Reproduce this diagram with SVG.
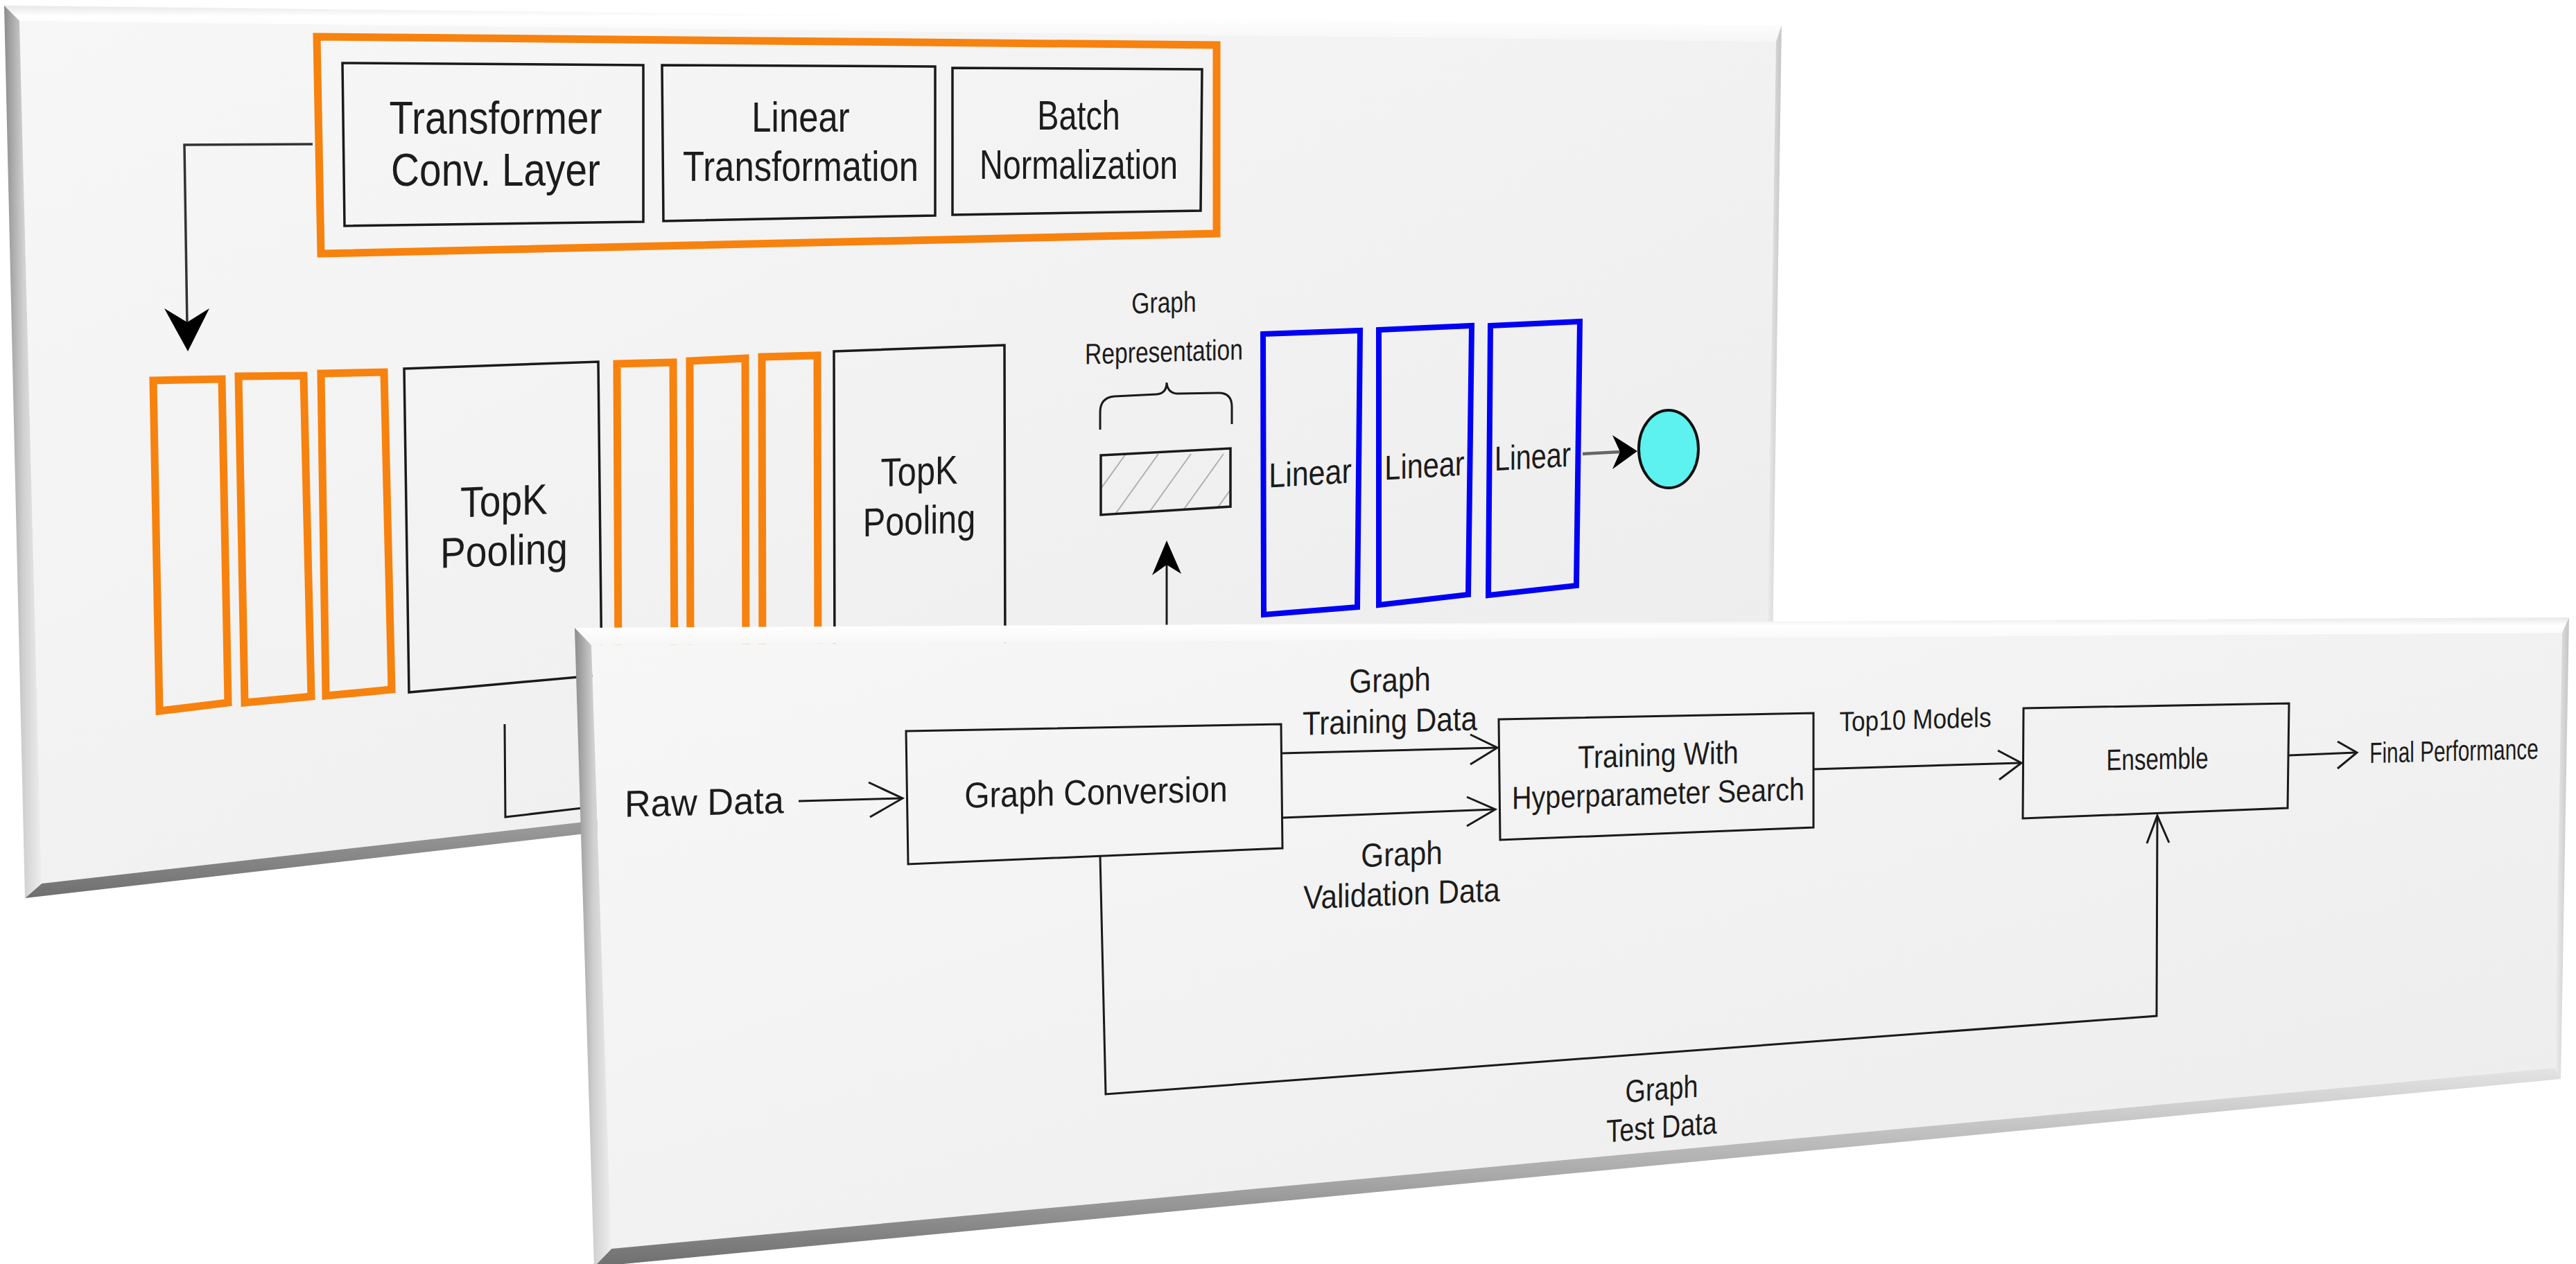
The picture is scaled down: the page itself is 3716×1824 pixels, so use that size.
<svg xmlns="http://www.w3.org/2000/svg" width="3716" height="1824" viewBox="0 0 3716 1824">
<defs>
<style>
.t{font-family:"Liberation Sans",Arial,Helvetica,sans-serif;fill:#1c1c1c;text-anchor:middle}
.bx{fill:none;stroke:#1a1a1a;stroke-width:3.5;stroke-linejoin:miter}
.or{fill:none;stroke:#F7820E;stroke-width:11;stroke-linejoin:miter}
.bl{fill:none;stroke:#0000F5;stroke-width:8;stroke-linejoin:miter}
.ln{fill:none;stroke:#1a1a1a;stroke-width:3;stroke-linejoin:miter}
.hd{fill:#000;stroke:none}
.hatch{stroke:#b0b0b0;stroke-width:2}
</style>
<linearGradient id="face" x1="0" y1="0" x2="1" y2="1">
<stop offset="0" stop-color="#f7f7f7"/><stop offset="1" stop-color="#ececec"/>
</linearGradient>
<linearGradient id="bevL" x1="0" y1="0" x2="1" y2="0">
<stop offset="0" stop-color="#8c8c8c"/><stop offset="0.5" stop-color="#cfcfcf"/><stop offset="1" stop-color="#efefef"/>
</linearGradient>
<linearGradient id="bevB" x1="0" y1="0" x2="0" y2="1">
<stop offset="0" stop-color="#e4e4e4"/><stop offset="0.55" stop-color="#a8a8a8"/><stop offset="1" stop-color="#6e6e6e"/>
</linearGradient>
<linearGradient id="bevT" x1="0" y1="0" x2="0" y2="1">
<stop offset="0" stop-color="#e8e8e8"/><stop offset="0.3" stop-color="#ffffff"/><stop offset="1" stop-color="#f6f6f6"/>
</linearGradient>
<linearGradient id="bevR" x1="0" y1="0" x2="1" y2="0">
<stop offset="0" stop-color="#f0f0f0"/><stop offset="1" stop-color="#c4c4c4"/>
</linearGradient>
<clipPath id="hclip"><polygon points="1588,657 1775,647 1775,731 1588,743"/></clipPath>
</defs>
<rect width="3716" height="1824" fill="#ffffff"/>

<!-- top panel -->
<g id="panel-top">
<polygon points="28,30 2562,60 2548,992 60,1275" fill="url(#face)"/>
<polygon points="6,8 2570,37 2562,60 28,30" fill="url(#bevT)"/>
<polygon points="2570,37 2556,1006 2548,992 2562,60" fill="url(#bevR)"/>
<polygon points="60,1275 2548,992 2556,1006 36,1296" fill="url(#bevB)"/>
<polygon points="6,8 28,30 60,1275 36,1296" fill="url(#bevL)"/>
</g>

<g id="transformer-block">
<polygon class="or" points="457,53 1755,65 1755,337 463,366"/>
</g>
<g id="node-transformer-conv">
<polygon class="bx" points="494,91 928,94 928,320 497,326"/>
<text class="t" font-size="66" transform="matrix(0.86,0,0,1,715,193)"><tspan x="0" y="0">Transformer</tspan><tspan x="0" y="75">Conv. Layer</tspan></text>
</g>
<g id="node-linear-transformation">
<polygon class="bx" points="955,94 1349,96 1349,311 957,319"/>
<text class="t" font-size="62" transform="matrix(0.82,0,0,1,1155,190)"><tspan x="0" y="0">Linear</tspan><tspan x="0" y="71">Transformation</tspan></text>
</g>
<g id="node-batch-normalization">
<polygon class="bx" points="1374,98 1734,100 1732,304 1374,310"/>
<text class="t" font-size="60" transform="matrix(0.78,0,0,1,1556,187)"><tspan x="0" y="0">Batch</tspan><tspan x="0" y="71">Normalization</tspan></text>
</g>

<g id="node-conv-1">
<polygon class="or" points="221,549 320,547 329,1014 230,1026"/>
<polygon class="or" points="344,543 438,542 449,1005 353,1014"/>
<polygon class="or" points="463,539 554,537 565,995 470,1004"/>
</g>
<g id="node-topk-1">
<polygon class="bx" points="583,532 863,522 868,974 590,999"/>
<text class="t" font-size="62" transform="matrix(0.89,-0.036,0,1,727,744)"><tspan x="0" y="0">TopK</tspan><tspan x="0" y="72">Pooling</tspan></text>
</g>
<g id="node-conv-2">
<polygon class="or" points="890,525 971,523 973,960 892,962"/>
<polygon class="or" points="995,521 1075,517 1076,960 996,962"/>
<polygon class="or" points="1099,515 1179,513 1180,960 1100,962"/>
</g>
<g id="node-topk-2">
<polygon class="bx" points="1203,507 1449,498 1450,960 1204,960"/>
<text class="t" font-size="58" transform="matrix(0.84,-0.034,0,1,1326,700)"><tspan x="0" y="0">TopK</tspan><tspan x="0" y="71">Pooling</tspan></text>
</g>
<g id="node-graph-representation">
<text class="t" font-size="42" transform="matrix(0.8,-0.024,0,1,1679,451)"><tspan x="0" y="0">Graph</tspan><tspan x="0" y="71">Representation</tspan></text>
<path class="ln" d="M1587,620 L1587,595 Q1587,574 1607,572 L1668,569 Q1683,568 1683,552 Q1684,567 1698,568 L1758,567 Q1777,567 1777,587 L1777,612"/>
<g clip-path="url(#hclip)">
<line class="hatch" x1="1556" y1="750" x2="1624" y2="655"/>
<line class="hatch" x1="1603" y1="750" x2="1671" y2="655"/>
<line class="hatch" x1="1650" y1="750" x2="1718" y2="655"/>
<line class="hatch" x1="1697" y1="750" x2="1765" y2="655"/>
<line class="hatch" x1="1744" y1="750" x2="1812" y2="655"/>
</g>
<polygon class="bx" points="1588,657 1775,647 1775,731 1588,743"/>
</g>
<g id="node-linear-1">
<polygon class="bl" points="1822,482 1962,477 1958,876 1823,887"/>
<text class="t" font-size="50" transform="matrix(0.86,-0.052,0,1,1890,700)">Linear</text>
</g>
<g id="node-linear-2">
<polygon class="bl" points="1989,476 2123,470 2118,858 1989,873"/>
<text class="t" font-size="50" transform="matrix(0.83,-0.05,0,1,2055,689)">Linear</text>
</g>
<g id="node-linear-3">
<polygon class="bl" points="2150,470 2279,464 2274,845 2147,859"/>
<text class="t" font-size="50" transform="matrix(0.79,-0.047,0,1,2211,676)">Linear</text>
</g>
<g id="node-output">
<ellipse cx="2407" cy="648" rx="43" ry="56" fill="#5DF2EF" stroke="#111" stroke-width="4"/>
</g>

<g id="connectors-top">
<polyline points="451,208 266,209 270,470" fill="none" stroke="#333" stroke-width="3.5"/>
<path class="hd" d="M271,507 L237,445 L270,465 L302,445 Z"/>
<polyline class="ln" points="728,1045 729,1179 840,1166"/>
<line x1="1683" y1="925" x2="1683" y2="805" stroke="#1a1a1a" stroke-width="3"/>
<path class="hd" d="M1683,780 L1704,828 L1683,815 L1662,830 Z"/>
<line x1="2283" y1="655" x2="2338" y2="652" stroke="#666" stroke-width="4.5"/>
<path class="hd" d="M2362,651 L2326,677 L2337,652 L2326,628 Z"/>
</g>

<!-- lower panel -->
<g id="panel-bottom">
<polygon points="853,931 3696,913 3685,1541 882,1802" fill="url(#face)"/>
<polygon points="829,906 3706,891 3696,913 853,931" fill="url(#bevT)"/>
<polygon points="3706,891 3694,1557 3685,1541 3696,913" fill="url(#bevR)"/>
<polygon points="882,1802 3685,1541 3694,1557 857,1828" fill="url(#bevB)"/>
<polygon points="829,906 853,931 882,1802 857,1828" fill="url(#bevL)"/>
</g>

<g id="node-raw-data">
<text class="t" font-size="54" transform="matrix(0.97,-0.024,0,1,1016,1176)">Raw Data</text>
</g>
<g id="node-graph-conversion">
<polygon class="ln" points="1307,1055 1848,1045 1850,1224 1310,1247"/>
<text class="t" font-size="52" transform="matrix(0.9,-0.022,0,1,1581,1161)">Graph Conversion</text>
</g>
<g id="node-training">
<polygon class="ln" points="2162,1038 2616,1029 2616,1194 2164,1212"/>
<text class="t" font-size="46" transform="matrix(0.86,-0.027,0,1,2392,1105)"><tspan x="0" y="0">Training With</tspan><tspan x="0" y="56">Hyperparameter Search</tspan></text>
</g>
<g id="node-ensemble">
<polygon class="ln" points="2919,1022 3302,1015 3300,1166 2918,1181"/>
<text class="t" font-size="43" transform="matrix(0.77,-0.015,0,1,3112,1110)">Ensemble</text>
</g>
<g id="node-final-performance">
<text class="t" font-size="42" transform="matrix(0.71,-0.018,0,1,3540,1098)">Final Performance</text>
</g>

<g id="connectors">
<line class="ln" x1="1152" y1="1156" x2="1300" y2="1152"/>
<polyline class="ln" points="1253,1129 1302,1152 1255,1179"/>
<line class="ln" x1="1848" y1="1087" x2="2158" y2="1079"/>
<polyline class="ln" points="2121,1060 2160,1079 2121,1103"/>
<line class="ln" x1="1850" y1="1180" x2="2155" y2="1168"/>
<polyline class="ln" points="2116,1150 2157,1168 2116,1192"/>
<line class="ln" x1="2616" y1="1110" x2="2914" y2="1101"/>
<polyline class="ln" points="2882,1083 2916,1101 2884,1125"/>
<line class="ln" x1="3302" y1="1090" x2="3398" y2="1086"/>
<polyline class="ln" points="3372,1070 3400,1086 3372,1109"/>
<polyline class="ln" points="1587,1236 1595,1579 3111,1466 3112,1179"/>
<polyline class="ln" points="3097,1217 3112,1177 3129,1216"/>
<text class="t" font-size="48" transform="matrix(0.88,-0.026,0,1,2005,998)"><tspan x="0" y="0">Graph</tspan><tspan x="0" y="59">Training Data</tspan></text>
<text class="t" font-size="48" transform="matrix(0.88,-0.035,0,1,2022,1249)"><tspan x="0" y="0">Graph</tspan><tspan x="0" y="57">Validation Data</tspan></text>
<text class="t" font-size="40" transform="matrix(0.88,-0.026,0,1,2763,1052)">Top10 Models</text>
<text class="t" font-size="46" transform="matrix(0.82,-0.066,0,1,2397,1587)"><tspan x="0" y="0">Graph</tspan><tspan x="0" y="55">Test Data</tspan></text>
</g>
</svg>
